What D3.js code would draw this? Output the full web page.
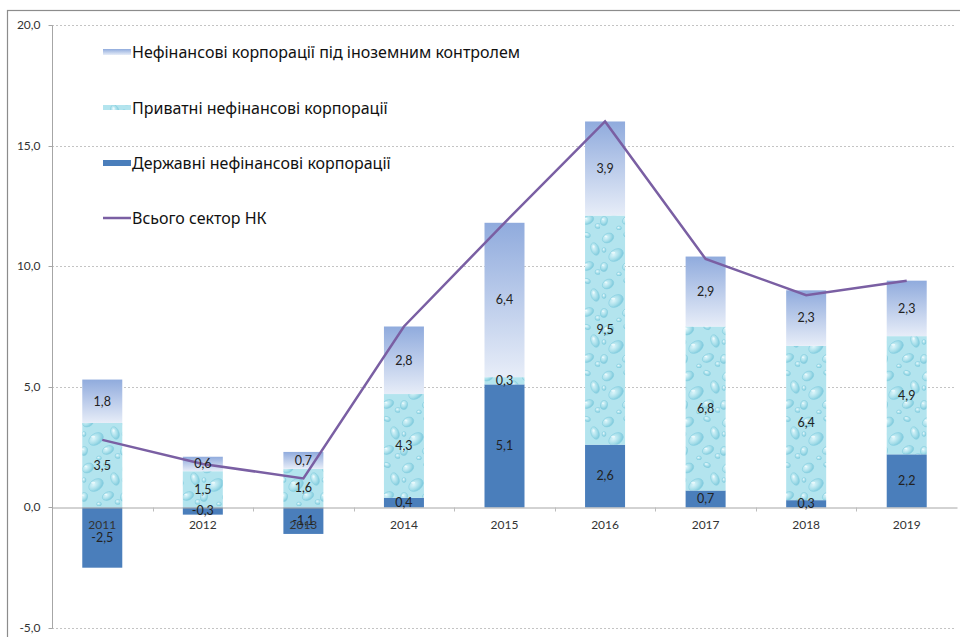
<!DOCTYPE html>
<html><head><meta charset="utf-8">
<script src="https://cdn.jsdelivr.net/npm/d3@7/dist/d3.min.js"></script>
<style>body{margin:0;background:#fff}svg{display:block}</style>
</head><body>
<svg id="chart" width="960" height="637"></svg>
<script>
const years = ["2011","2012","2013","2014","2015","2016","2017","2018","2019"];
const stateVals = [-2.5,-0.3,-1.1,0.4,5.1,2.6,0.7,0.3,2.2];
const privateVals = [3.5,1.5,1.6,4.3,0.3,9.5,6.8,6.4,4.9];
const foreignVals = [1.8,0.6,0.7,2.8,6.4,3.9,2.9,2.3,2.3];
const totalVals = [2.8,1.8,1.2,7.5,11.8,16.0,10.3,8.8,9.4];
const yTicks = [-5,0,5,10,15,20];
const legendLabels = ["Нефінансові корпорації під іноземним контролем","Приватні нефінансові корпорації","Державні нефінансові корпорації","Всього сектор НК"];

const svg = d3.select("#chart");
const defs = svg.append("defs");
const fmt = v => d3.format(".1f")(v).replace(".", ",").replace("−","-");

// gradients / patterns
const fg = defs.append("linearGradient").attr("id","foreignGrad").attr("x1",0).attr("y1",0).attr("x2",0).attr("y2",1);
fg.append("stop").attr("offset","0%").attr("stop-color","#90abdd");
fg.append("stop").attr("offset","100%").attr("stop-color","#e7edf8");
const dg = defs.append("radialGradient").attr("id","dropGrad").attr("cx","40%").attr("cy","35%").attr("r","75%");
dg.append("stop").attr("offset","0%").attr("stop-color","#dcf5fa");
dg.append("stop").attr("offset","55%").attr("stop-color","#a4dde9");
dg.append("stop").attr("offset","100%").attr("stop-color","#6fc1d6");
const pat = defs.append("pattern").attr("id","water").attr("patternUnits","userSpaceOnUse").attr("width",40).attr("height",46);
pat.append("rect").attr("width",40).attr("height",46).attr("fill","#b3e4ee");
const drops = [[8,8,6,4.5,-30],[27,5,3.5,2.5,20],[35,19,4,6.5,-20],[16,25,8,5.5,-35],[4,37,3.5,4.5,10],[28,36,6,4,-25],[19,44,2.5,2,0],[38,42,3,2.5,0],[4,20,2,2.5,0]];
drops.forEach(d=>{
  pat.append("ellipse").attr("cx",d[0]).attr("cy",d[1]).attr("rx",d[2]).attr("ry",d[3])
    .attr("transform",`rotate(${d[4]},${d[0]},${d[1]})`)
    .attr("fill","url(#dropGrad)").attr("stroke","#86cfe0").attr("stroke-width",0.6);
  pat.append("ellipse").attr("cx",d[0]-d[2]*0.35).attr("cy",d[1]-d[3]*0.4).attr("rx",d[2]*0.25).attr("ry",d[3]*0.18)
    .attr("fill","#f2fcfe").attr("opacity",0.8);
});

// frame
svg.append("rect").attr("x",7.5).attr("y",10.5).attr("width",960).attr("height",640)
  .attr("fill","none").attr("stroke","#8c8c8c").attr("stroke-width",1.2);

const left = 52, right = 957;
const y = d3.scaleLinear().domain([-5,20]).range([628,25]);
const x = d3.scaleBand().domain(years).range([left,right]).paddingInner(0).paddingOuter(0);
const barW = 40;

// gridlines
svg.append("g").selectAll("line").data(yTicks.filter(t=>t!==0)).join("line")
  .attr("x1",left).attr("x2",right-2).attr("y1",d=>Math.round(y(d))+0.5).attr("y2",d=>Math.round(y(d))+0.5)
  .attr("stroke","#c4c4c4").attr("stroke-dasharray","2,2").attr("stroke-width",1);

// y axis
const yAxis = d3.axisLeft(y).tickValues(yTicks).tickSize(4).tickFormat(fmt);
const yg = svg.append("g").attr("transform",`translate(${left+0.5},0.5)`).call(yAxis);
yg.select(".domain").attr("stroke","#a6a6a6").attr("d",`M0,${y(20)}V${y(-5)}`);
yg.selectAll(".tick line").attr("stroke","#a6a6a6");
yg.selectAll(".tick text").attr("x",-12).attr("fill","#333").style("font-family","Lato, sans-serif").style("font-size","12px");
yg.selectAll(".tick").attr("transform",d=>`translate(0,${Math.round(y(d))})`);

// stacked data
const stacked = years.map((yr,i)=>{
  const s = stateVals[i], p = privateVals[i], f = foreignVals[i];
  const base = Math.max(0,s);
  return {yr, segs:[
    {key:"state", v:s, y0: s<0? s:0, y1: s<0?0:s, fill:"#4a7ebb"},
    {key:"private", v:p, y0:base, y1:base+p, fill:"url(#water)"},
    {key:"foreign", v:f, y0:base+p, y1:base+p+f, fill:"url(#foreignGrad)"}
  ]};
});

const bars = svg.append("g");
stacked.forEach(d=>{
  const cx = x(d.yr)+x.bandwidth()/2;
  bars.selectAll(null).data(d.segs).join("rect")
    .attr("x",cx-barW/2).attr("width",barW)
    .attr("y",s=>y(s.y1)).attr("height",s=>y(s.y0)-y(s.y1))
    .attr("fill",s=>s.fill);
});

// x axis (zero line)
const xAxis = d3.axisBottom(x).tickSize(0).tickSizeOuter(0);
const xg = svg.append("g").attr("transform",`translate(0,${Math.round(y(0))+0.5})`).call(xAxis);
xg.select(".domain").attr("stroke","#a6a6a6");
xg.selectAll(".tick text").attr("dy","0").attr("y",21).attr("fill","#333").style("font-family","Lato, sans-serif").style("font-size","12px");
// boundary ticks
xg.append("g").selectAll("line").data(years.slice(1)).join("line")
  .attr("x1",d=>Math.round(x(d))+0.5).attr("x2",d=>Math.round(x(d))+0.5).attr("y1",0).attr("y2",4).attr("stroke","#bdbdbd");

// total line
const line = d3.line().x((d,i)=>x(years[i])+x.bandwidth()/2).y(d=>y(d));
svg.append("path").datum(totalVals).attr("d",line).attr("fill","none")
  .attr("stroke","#7a5fa3").attr("stroke-width",2.5).attr("stroke-linejoin","miter");

// data labels
const lab = svg.append("g").style("font-family","Lato, sans-serif").style("font-size","12.5px").attr("fill","#222").attr("text-anchor","middle");
stacked.forEach(d=>{
  const cx = x(d.yr)+x.bandwidth()/2;
  d.segs.forEach(s=>{
    lab.append("text").attr("x",cx).attr("y",y((s.y0+s.y1)/2)).attr("dy","0.35em").text(fmt(s.v));
  });
});

// legend
const lg = svg.append("g").style("font-family","'Noto Sans', sans-serif").style("font-size","16px").attr("fill","#111");
const rows = [52,108,163,218];
lg.append("rect").attr("x",103).attr("y",rows[0]-3).attr("width",28).attr("height",6).attr("fill","url(#foreignGrad)");
lg.append("rect").attr("x",103).attr("y",rows[1]-3).attr("width",28).attr("height",5).attr("fill","url(#water)");
lg.append("rect").attr("x",103).attr("y",rows[2]-3).attr("width",28).attr("height",6).attr("fill","#4a7ebb");
lg.append("line").attr("x1",103).attr("x2",131).attr("y1",rows[3]).attr("y2",rows[3]).attr("stroke","#7a5fa3").attr("stroke-width",2.5);
legendLabels.forEach((t,i)=>{
  lg.append("text").attr("x",132).attr("y",rows[i]).attr("dy","0.35em").text(t);
});
</script>
</body></html>
